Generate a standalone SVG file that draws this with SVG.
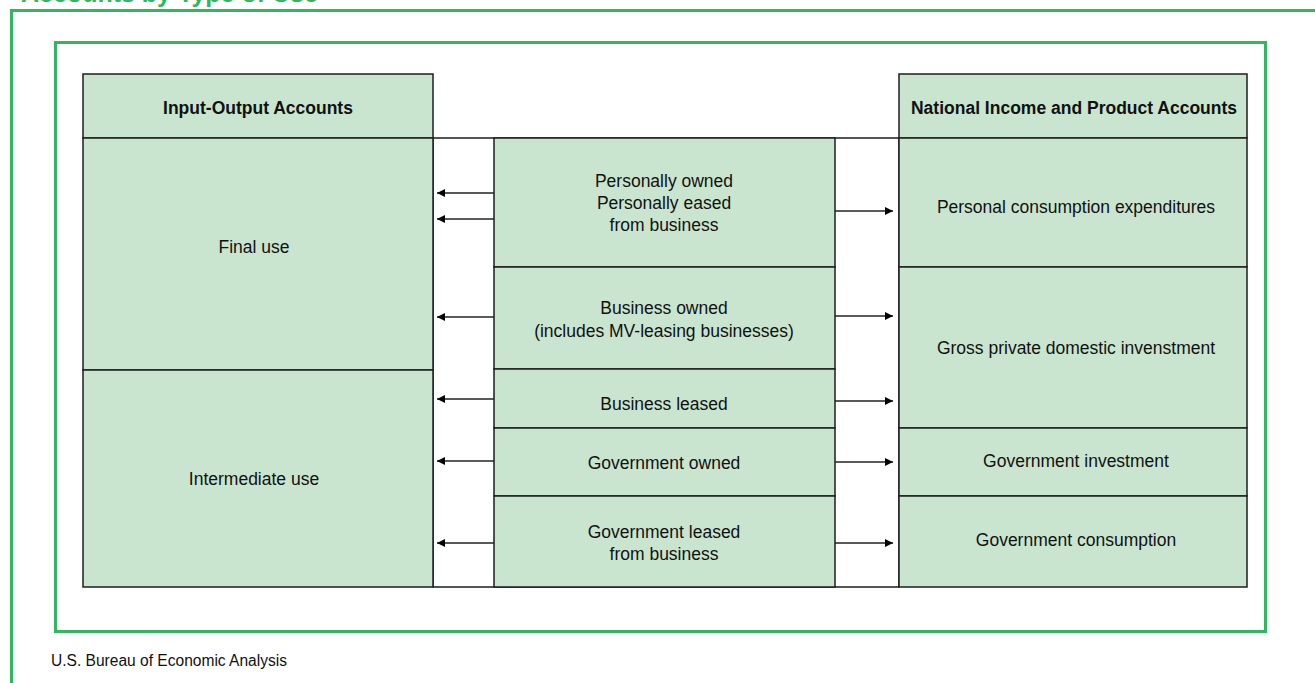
<svg xmlns="http://www.w3.org/2000/svg" width="1315" height="683" viewBox="0 0 1315 683">
<style>
.frame{fill:none;stroke:#2fb85f;stroke-width:3}
.box{fill:#cae5cf;stroke:#1e1e1e;stroke-width:1.5}
.gap{fill:#fff;stroke:#1e1e1e;stroke-width:1.5}
.t{font-family:"Liberation Sans",Arial,sans-serif;font-size:17.5px;fill:#111;text-anchor:middle}
.h{font-weight:bold}
.c{stroke:#222;stroke-width:1.5;fill:none}
</style>
<defs>
<marker id="ah" viewBox="0 0 10 10" refX="10" refY="5" markerWidth="8" markerHeight="8" markerUnits="userSpaceOnUse" orient="auto">
<path d="M0,0 L10,5 L0,10 Z" fill="#000"/>
</marker>
</defs>
<rect width="1315" height="683" fill="#fff"/>
<text x="21" y="2" font-family="Liberation Sans,Arial,sans-serif" font-weight="bold" font-size="25" fill="#2fb85f">Accounts by Type of Use</text>
<rect class="frame" x="11.5" y="10.5" width="1320" height="700"/>
<rect class="frame" x="55.5" y="42.5" width="1210" height="589"/>

<rect class="gap" x="433" y="138" width="466" height="449"/>

<g id="io-header"><rect class="box" x="83" y="74" width="350" height="64"/><text class="t h" x="258" y="114">Input-Output Accounts</text></g>
<g id="final-use"><rect class="box" x="83" y="138" width="350" height="232"/><text class="t" x="254" y="253">Final use</text></g>
<g id="intermediate-use"><rect class="box" x="83" y="370" width="350" height="217"/><text class="t" x="254" y="485">Intermediate use</text></g>

<g id="personally"><rect class="box" x="494" y="138" width="341" height="129"/><text class="t" x="664" y="187">Personally owned</text><text class="t" x="664" y="209">Personally eased</text><text class="t" x="664" y="231">from business</text></g>
<g id="business-owned"><rect class="box" x="494" y="267" width="341" height="102"/><text class="t" x="664" y="314">Business owned</text><text class="t" x="664" y="337">(includes MV-leasing businesses)</text></g>
<g id="business-leased"><rect class="box" x="494" y="369" width="341" height="59"/><text class="t" x="664" y="410">Business leased</text></g>
<g id="government-owned"><rect class="box" x="494" y="428" width="341" height="68"/><text class="t" x="664" y="469">Government owned</text></g>
<g id="government-leased"><rect class="box" x="494" y="496" width="341" height="91"/><text class="t" x="664" y="538">Government leased</text><text class="t" x="664" y="560">from business</text></g>

<g id="nipa-header"><rect class="box" x="899" y="74" width="348" height="64"/><text class="t h" x="1074" y="114">National Income and Product Accounts</text></g>
<g id="pce"><rect class="box" x="899" y="138" width="348" height="129"/><text class="t" x="1076" y="213">Personal consumption expenditures</text></g>
<g id="gpdi"><rect class="box" x="899" y="267" width="348" height="161"/><text class="t" x="1076" y="354">Gross private domestic invenstment</text></g>
<g id="gov-inv"><rect class="box" x="899" y="428" width="348" height="68"/><text class="t" x="1076" y="467">Government investment</text></g>
<g id="gov-cons"><rect class="box" x="899" y="496" width="348" height="91"/><text class="t" x="1076" y="546">Government consumption</text></g>

<g id="connectors">
<line class="c" x1="494" y1="193" x2="437" y2="193" marker-end="url(#ah)"/>
<line class="c" x1="494" y1="219" x2="437" y2="219" marker-end="url(#ah)"/>
<line class="c" x1="494" y1="317" x2="437" y2="317" marker-end="url(#ah)"/>
<line class="c" x1="494" y1="399" x2="437" y2="399" marker-end="url(#ah)"/>
<line class="c" x1="494" y1="461" x2="437" y2="461" marker-end="url(#ah)"/>
<line class="c" x1="494" y1="543" x2="437" y2="543" marker-end="url(#ah)"/>
<line class="c" x1="835" y1="211" x2="893" y2="211" marker-end="url(#ah)"/>
<line class="c" x1="835" y1="316" x2="893" y2="316" marker-end="url(#ah)"/>
<line class="c" x1="835" y1="401" x2="893" y2="401" marker-end="url(#ah)"/>
<line class="c" x1="835" y1="462" x2="893" y2="462" marker-end="url(#ah)"/>
<line class="c" x1="835" y1="543" x2="893" y2="543" marker-end="url(#ah)"/>
</g>

<text x="51" y="666" font-family="Liberation Sans,Arial,sans-serif" font-size="16" fill="#111" textLength="236" lengthAdjust="spacingAndGlyphs">U.S. Bureau of Economic Analysis</text>
</svg>
